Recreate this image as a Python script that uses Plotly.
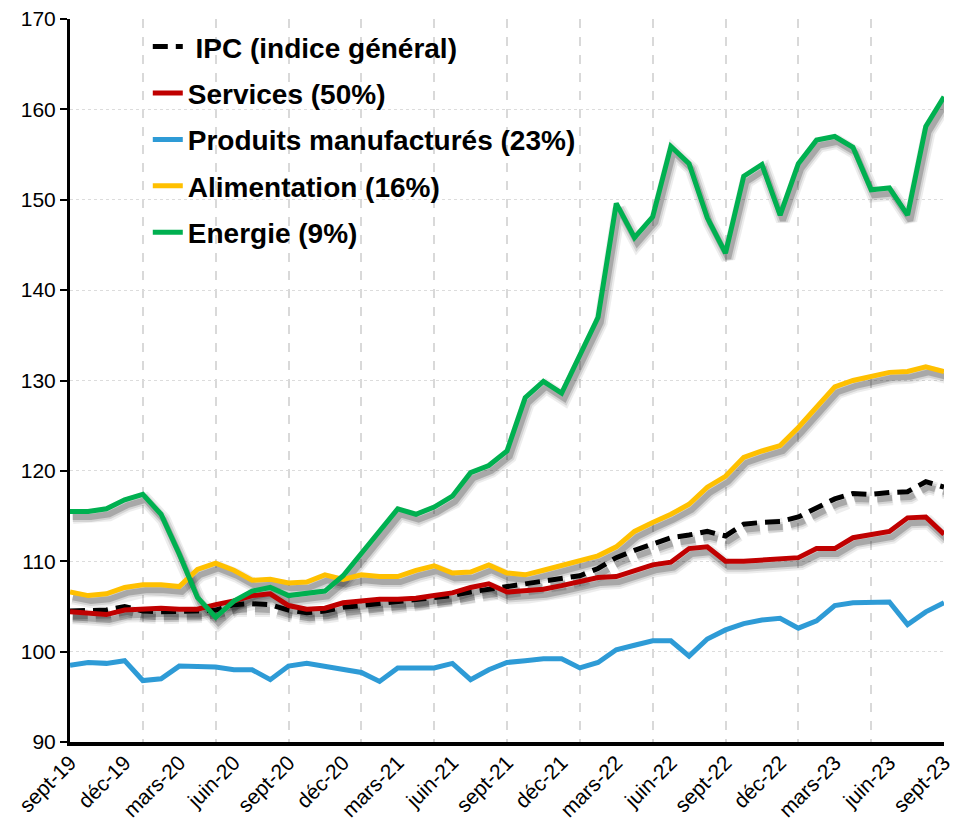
import plotly.graph_objects as go

# ---- data ----
months = list(range(49))  # sept-19 ... sept-23, monthly
tick_pos = list(range(0, 49, 3))
tick_labels = ["sept-19", "déc-19", "mars-20", "juin-20", "sept-20", "déc-20",
               "mars-21", "juin-21", "sept-21", "déc-21", "mars-22", "juin-22",
               "sept-22", "déc-22", "mars-23", "juin-23", "sept-23"]

ipc = [104.5, 104.5, 104.6, 105.0, 104.5, 104.4, 104.4, 104.5, 104.6, 105.2, 105.3, 105.2,
       104.6, 104.3, 104.5, 104.9, 105.1, 105.3, 105.6, 105.8, 106.0, 106.2, 106.6, 106.9,
       107.1, 107.5, 107.7, 108.0, 108.4, 109.2, 110.4, 111.2, 111.9, 112.6, 112.9, 113.3,
       112.8, 114.1, 114.3, 114.4, 114.9, 115.9, 116.9, 117.5, 117.4, 117.6, 117.7, 118.8,
       118.2]
services = [104.4, 104.3, 104.1, 104.6, 104.7, 104.8, 104.7, 104.7, 105.2, 105.6, 106.2, 106.4,
            105.1, 104.7, 104.8, 105.4, 105.6, 105.8, 105.8, 105.9, 106.2, 106.5, 107.1, 107.5,
            106.6, 106.7, 106.9, 107.3, 107.7, 108.2, 108.3, 109.0, 109.6, 109.9, 111.4, 111.6,
            110.0, 110.0, 110.1, 110.3, 110.4, 111.4, 111.4, 112.6, 112.9, 113.3, 114.8, 114.9,
            113.0]
manuf = [98.5, 98.8, 98.7, 99.0, 96.8, 97.0, 98.4, 98.4, 98.3, 98.0, 98.0, 96.9,
         98.4, 98.7, 98.4, 98.1, 97.7, 96.7, 98.2, 98.2, 98.2, 98.7, 96.9, 98.0,
         98.8, 99.0, 99.2, 99.2, 98.2, 98.8, 100.2, 100.7, 101.2, 101.2, 99.5, 101.4,
         102.4, 103.1, 103.5, 103.7, 102.6, 103.4, 105.1, 105.4, 105.4, 105.5, 103.0, 104.4,
         105.4]
food = [106.6, 106.2, 106.4, 107.1, 107.4, 107.4, 107.2, 109.1, 109.8, 109.0, 107.9, 108.0,
        107.6, 107.7, 108.5, 108.0, 108.5, 108.3, 108.3, 109.0, 109.5, 108.7, 108.8, 109.6,
        108.7, 108.5, 109.0, 109.5, 110.1, 110.6, 111.6, 113.3, 114.3, 115.2, 116.3, 118.2,
        119.4, 121.5, 122.2, 122.8, 124.8, 127.0, 129.3, 130.0, 130.5, 130.9, 131.0, 131.5,
        131.0]
energy = [115.5, 115.5, 115.8, 116.8, 117.4, 115.2, 110.8, 106.0, 103.8, 105.6, 106.7, 107.1,
          106.2, 106.4, 106.7, 108.4, 110.8, 113.4, 115.8, 115.2, 116.0, 117.2, 119.8, 120.6,
          122.2, 128.1, 129.9, 128.6, 132.8, 137.0, 149.6, 145.8, 148.1, 155.9, 154.0, 148.0,
          144.1, 152.6, 153.9, 148.3, 154.0, 156.6, 157.0, 155.8, 151.1, 151.3, 148.3, 158.1,
          161.4]

series = [
    # name, values, colour, dash, shadow
    (" IPC (indice général)", ipc, "#000000", "15px,8px", True),
    ("Services (50%)", services, "#c00000", "solid", True),
    ("Produits manufacturés (23%)", manuf, "#2e9bd6", "solid", False),
    ("Alimentation (16%)", food, "#ffc000", "solid", True),
    ("Energie (9%)", energy, "#00b050", "solid", True),
]
draw_order = [0, 2, 3, 1, 4]

fig = go.Figure()

# drop shadows (blurred, offset down/right)
shadow_dx, shadow_dy = 0.15, -0.6
for idx in draw_order:
    name, vals, col, dash, sh = series[idx]
    if not sh:
        continue
    for w, a in [(14, 0.07), (10, 0.11), (6, 0.2)]:
        fig.add_trace(go.Scatter(
            x=[m + shadow_dx for m in months], y=[v + shadow_dy for v in vals],
            mode="lines", line=dict(color=f"rgba(0,0,0,{a})", width=w, dash=dash),
            showlegend=False, hoverinfo="skip"))

for idx in draw_order:
    name, vals, col, dash, sh = series[idx]
    fig.add_trace(go.Scatter(
        x=months, y=vals, mode="lines", name=name,
        line=dict(color=col, width=5, dash=dash),
        legendgroup=name, legendrank=idx + 1))

# the page body adds an 8px margin, so the figure is sized to fit inside the window
fig.update_layout(
    width=947, height=813,
    margin=dict(l=62, r=11, t=11, b=79),
    plot_bgcolor="white", paper_bgcolor="white",
    font=dict(family="Liberation Sans, Arial, sans-serif", color="black"),
    legend=dict(x=0.089, y=0.996, xanchor="left", yanchor="top",
                bgcolor="rgba(0,0,0,0)", traceorder="grouped", tracegroupgap=7,
                font=dict(size=28, weight="bold", color="black")),
    xaxis=dict(range=[0, 48], tickmode="array", tickvals=tick_pos, ticktext=tick_labels,
               tickangle=-45, tickfont=dict(size=21), showgrid=False, zeroline=False,
               showline=True, linecolor="black", linewidth=4, ticks="",
               automargin=False, ticklabeloverflow="allow", ticklabelstandoff=-4,
               minor=dict(tickmode="array", tickvals=list(range(4, 48, 4)), showgrid=True,
                          gridcolor="#d9d9d9", griddash="dash", gridwidth=2, ticks="")),
    yaxis=dict(range=[90, 170], dtick=10, tickfont=dict(size=21), showgrid=True,
               gridcolor="#dcdcdc", griddash="dot", gridwidth=1, zeroline=False,
               showline=True, linecolor="black", linewidth=3, ticks="outside",
               ticklen=7, tickwidth=2, tickcolor="black", automargin=False,
               ticklabeloverflow="allow"),
)

fig.write_html("out.html")
